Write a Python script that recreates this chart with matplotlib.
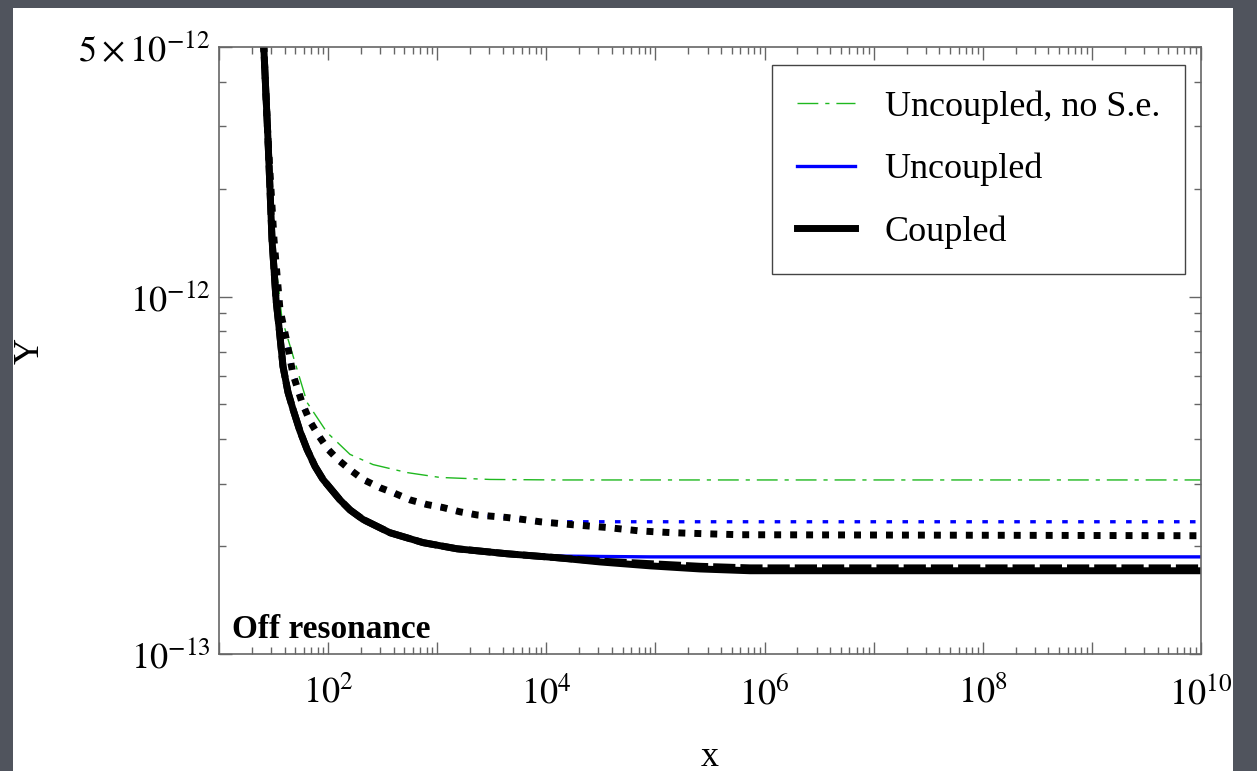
import matplotlib
matplotlib.use("Agg")
import matplotlib.pyplot as plt
from matplotlib.patches import Rectangle
from matplotlib.ticker import FixedLocator, FixedFormatter, LogLocator, NullFormatter

plt.rcParams['font.family'] = ['Liberation Serif', 'DejaVu Serif']
plt.rcParams['mathtext.fontset'] = 'stix'
plt.rcParams['lines.scale_dashes'] = False

# values, y in units of 1e-13
x_solid = [25.3, 28.1, 30.6, 33.3, 35.9, 38.6, 42.9, 47.7, 55.3, 64.1, 75.9, 89.8, 128.5, 158.8,
           209, 369, 741, 1519, 4365, 12530, 31040, 89100, 256300, 736000, 1e10]
y_coupled = [56, 27.7, 14.5, 9.84, 7.95, 6.38, 5.40, 4.84, 4.20, 3.74, 3.35, 3.08, 2.70, 2.53,
             2.38, 2.185, 2.05, 1.97, 1.908, 1.86, 1.81, 1.765, 1.73, 1.71, 1.71]
y_coupled_dash = [56, 27.7, 14.5, 9.84, 7.95, 6.38, 5.40, 4.84, 4.20, 3.74, 3.35, 3.08, 2.70, 2.53,
                  2.38, 2.185, 2.05, 1.97, 1.908, 1.86, 1.82, 1.79, 1.76, 1.742, 1.742]
y_uncoupled = [56, 27.7, 14.5, 9.84, 7.95, 6.38, 5.40, 4.84, 4.20, 3.74, 3.35, 3.08, 2.70, 2.53,
               2.38, 2.185, 2.05, 1.97, 1.908, 1.88, 1.875, 1.87, 1.87, 1.87, 1.87]

x_dot = [25.3, 28.1, 31.9, 36.2, 42.0, 47.7, 57.6, 68.2, 80.8, 99.8, 123, 158.8, 209, 299, 393,
         563, 806, 1130, 1618, 2317, 4365, 6113, 8750, 17570, 35970, 72200, 144800, 297000,
         595000, 1e10]
y_coupled_dot = [56, 27.7, 14.5, 9.22, 7.45, 6.06, 5.06, 4.48, 4.11, 3.74, 3.50, 3.28, 3.08, 2.92,
                 2.83, 2.70, 2.62, 2.57, 2.50, 2.45, 2.41, 2.38, 2.345, 2.30, 2.26, 2.21, 2.185,
                 2.17, 2.157, 2.143]
y_uncoupled_dot = [56, 27.7, 14.5, 9.22, 7.45, 6.06, 5.06, 4.48, 4.11, 3.74, 3.50, 3.28, 3.08, 2.92,
                   2.83, 2.70, 2.62, 2.57, 2.50, 2.45, 2.41, 2.38, 2.345, 2.345, 2.345, 2.345,
                   2.345, 2.345, 2.345, 2.345]

x_nose = [25.3, 28.1, 31.3, 37.8, 64.1, 97.7, 158.8, 258, 528, 1061, 3048, 12530, 1e10]
y_nose = [56, 27.7, 14.5, 8.65, 5.06, 4.17, 3.62, 3.39, 3.22, 3.12, 3.08, 3.07, 3.07]

legend_labels = ["Uncoupled, no S.e.", "Uncoupled", "Coupled"]

x_major = [10.0**k for k in range(1, 11)]
x_major_labels = ["" if (k < 2 or k % 2) else r"$10^{%d}$" % k for k in range(1, 11)]
y_major = [1e-13, 1e-12, 5e-12]
y_major_labels = [r"$10^{-13}$", r"$10^{-12}$", r"$5\times10^{-12}$"]
y_minor = [k * 1e-13 for k in range(2, 10)] + [k * 1e-12 for k in range(2, 5)]

s = 1e-13

fig = plt.figure(figsize=(12.57, 7.71), dpi=100, facecolor='#50545d')
fig.add_artist(Rectangle((13 / 1257, 0.0), 1220 / 1257, 0.99, transform=fig.transFigure,
                         facecolor='white', edgecolor='none', zorder=-5))
ax = fig.add_axes([219 / 1257, 117 / 771, 982 / 1257, 607 / 771])

ax.plot(x_nose, [v * s for v in y_nose], color='#1fb81f', lw=1.0,
        dashes=(15, 5, 3, 5), label=legend_labels[0])
ax.plot(x_solid, [v * s for v in y_uncoupled], color='blue', lw=2.4, label=legend_labels[1])
ax.plot(x_dot, [v * s for v in y_uncoupled_dot], color='blue', lw=2.4, dashes=(4, 7.5))
ax.plot(x_dot, [v * s for v in y_coupled_dot], color='black', lw=5, dashes=(5, 6.5))
ax.plot(x_solid, [v * s for v in y_coupled_dash], color='black', lw=5, dashes=(16, 3.6))
ax.plot(x_solid, [v * s for v in y_coupled], color='black', lw=5, label=legend_labels[2])

ax.set_xscale('log')
ax.set_yscale('log')
ax.set_xlim(10, 1e10)
ax.set_ylim(1e-13, 5e-12)

ax.xaxis.set_major_locator(FixedLocator(x_major))
ax.xaxis.set_major_formatter(FixedFormatter(x_major_labels))
ax.xaxis.set_minor_locator(LogLocator(base=10, subs=range(2, 10), numticks=50))
ax.xaxis.set_minor_formatter(NullFormatter())
ax.yaxis.set_major_locator(FixedLocator(y_major))
ax.yaxis.set_major_formatter(FixedFormatter(y_major_labels))
ax.yaxis.set_minor_locator(FixedLocator(y_minor))
ax.yaxis.set_minor_formatter(NullFormatter())

ax.tick_params(which='both', direction='in', top=True, right=True, color='#666666', width=1.0)
ax.tick_params(which='major', length=9, labelsize=26)
ax.tick_params(which='minor', length=5)
ax.tick_params(axis='x', which='major', pad=16)
ax.tick_params(axis='y', which='major', pad=6)
for sp in ax.spines.values():
    sp.set_color('#666666')
    sp.set_linewidth(1.2)

ax.set_xlabel("x", fontsize=26, va='center')
ax.xaxis.set_label_coords(0.5, -(757 - 654) / 607)
ax.set_ylabel("Y", fontsize=26, va='center')
ax.yaxis.set_label_coords(-(219 - 30) / 982, 0.5)

ax.text(0.013, 0.026, "Off resonance", transform=ax.transAxes, fontsize=24,
        fontweight='bold', va='baseline')

leg = ax.legend(loc='upper right', bbox_to_anchor=(0.984, 0.970), fontsize=26, frameon=True,
                fancybox=False, framealpha=1, edgecolor='#444444', borderaxespad=0,
                handlelength=1.6, handletextpad=0.83, labelspacing=0.8, borderpad=0.7)
leg.get_frame().set_linewidth(1.0)

fig.savefig("out.png", dpi=100, facecolor=fig.get_facecolor())
